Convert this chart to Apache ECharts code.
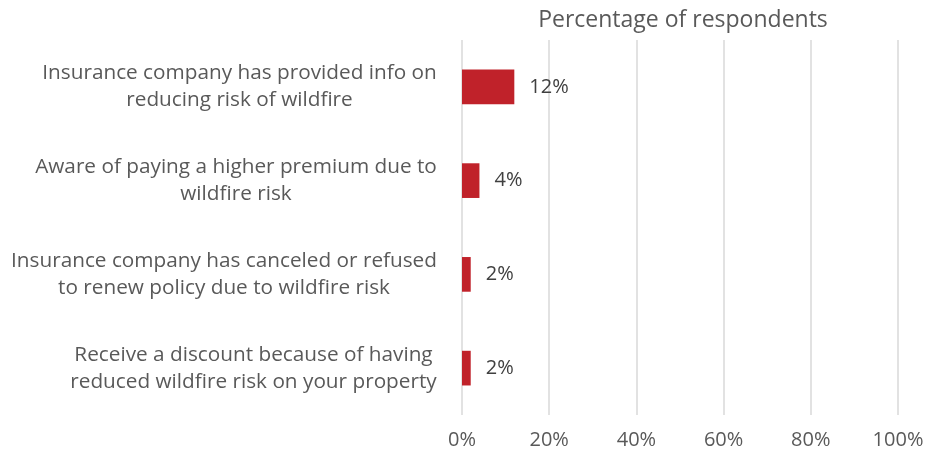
<!DOCTYPE html>
<html>
<head>
<meta charset="utf-8">
<script src="https://cdn.jsdelivr.net/npm/echarts@6/dist/echarts.min.js"></script>
<style>html,body{margin:0;padding:0;background:#fff}#c{width:928px;height:458px}</style>
</head>
<body>
<div id="c"></div>
<script>
const categories = [
  "Insurance company has provided info on\nreducing risk of wildfire",
  "Aware of paying a higher premium due to\nwildfire risk",
  "Insurance company has canceled or refused\nto renew policy due to wildfire risk",
  "Receive a discount because of having\nreduced wildfire risk on your property"
];
const values = [12, 4, 2, 2];
const tickLabels = ["0%", "20%", "40%", "60%", "80%", "100%"];
const titleText = "Percentage of respondents";

const fontFamily = "'Open Sans', 'Noto Sans', sans-serif";
const catFontSize = 20.75;

// measure each label block so lines can be centred within a right-aligned block
const ctx = document.createElement('canvas').getContext('2d');
ctx.font = catFontSize + "px " + fontFamily;
const catData = categories.map(function (c) {
  const w = Math.max.apply(null, c.split('\n').map(function (l) { return ctx.measureText(l).width; }));
  return { value: c, textStyle: { align: 'center', padding: [0, Math.ceil(w), 0, 0] } };
});

const chart = echarts.init(document.getElementById('c'));
chart.setOption({
  animation: false,
  backgroundColor: '#ffffff',
  title: {
    text: titleText,
    left: 678,
    top: 4,
    textAlign: 'center',
    textStyle: { fontFamily: fontFamily, fontSize: 23, fontWeight: 'normal', color: '#595959' }
  },
  grid: { left: 462, right: 30, top: 40, bottom: 43 },
  xAxis: {
    type: 'value',
    min: 0, max: 100, interval: 20,
    axisLine: { show: false },
    axisTick: { show: false },
    splitLine: { lineStyle: { color: '#d9d9d9', width: 1.5 } },
    axisLabel: {
      margin: 15,
      fontFamily: fontFamily, fontSize: 20, color: '#595959',
      formatter: function (v) { return tickLabels[Math.round(v / 20)]; }
    }
  },
  yAxis: {
    type: 'category',
    inverse: true,
    data: catData,
    axisLine: { show: false },
    axisTick: { show: false },
    axisLabel: {
      margin: 25,
      fontFamily: fontFamily, fontSize: catFontSize, color: '#595959',
      lineHeight: 27
    }
  },
  series: [{
    type: 'bar',
    data: values,
    barCategoryGap: '63%',
    itemStyle: { color: '#C0222A' },
    label: {
      show: true,
      position: 'right',
      distance: 15,
      formatter: '{c}%',
      fontFamily: fontFamily, fontSize: 20, color: '#404040'
    }
  }]
});
</script>
</body>
</html>
